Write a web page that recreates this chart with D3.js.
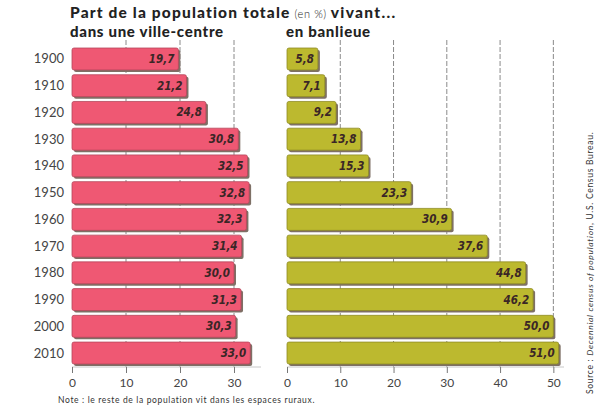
<!DOCTYPE html>
<html>
<head>
<meta charset="utf-8">
<script src="https://cdn.jsdelivr.net/npm/d3@7/dist/d3.min.js"></script>
<style>
  html, body { margin: 0; padding: 0; background: #fff; }
  svg { display: block; }
</style>
</head>
<body>
<svg id="chart" width="602" height="408"></svg>
<script>
// Share of the US population living in central cities and in suburbs (%)
const years = ["1900", "1910", "1920", "1930", "1940", "1950", "1960", "1970", "1980", "1990", "2000", "2010"];
const villeCentre = [19.7, 21.2, 24.8, 30.8, 32.5, 32.8, 32.3, 31.4, 30.0, 31.3, 30.3, 33.0];
const banlieue = [5.8, 7.1, 9.2, 13.8, 15.3, 23.3, 30.9, 37.6, 44.8, 46.2, 50.0, 51.0];
const ticksCentre = [0, 10, 20, 30];
const ticksBanlieue = [0, 10, 20, 30, 40, 50];

const fmt = v => v.toFixed(1).replace(".", ",");

const svg = d3.select("#chart");

const y = d3.scaleBand().domain(years).range([48, 364]).paddingInner(0.18).paddingOuter(0);

const xL = d3.scaleLinear().domain([0, 35]).range([72, 261]);
const xR = d3.scaleLinear().domain([0, 52]).range([287, 564]);

const gridTop = 40, axisY = 367;

function panel(x, values, ticks, fill, stroke) {
  const g = svg.append("g");
  // dashed vertical guides
  g.selectAll("line.grid").data(ticks.filter(t => t > 0)).join("line")
    .attr("class", "grid")
    .attr("x1", d => x(d)).attr("x2", d => x(d))
    .attr("y1", gridTop).attr("y2", axisY)
    .attr("stroke", "#8a8a8a").attr("stroke-width", 1)
    .attr("stroke-dasharray", "5,2");

  // bottom axis
  const ax = g.append("g").attr("transform", `translate(0,${axisY})`)
    .call(d3.axisBottom(x).tickValues(ticks).tickSize(6).tickPadding(5).tickFormat(d3.format("d")));
  ax.select(".domain").attr("stroke", "#c8c8c8").attr("d", `M${x.range()[0]},0H${x.range()[1]}`);
  ax.selectAll(".tick line").attr("stroke", "#777");
  ax.selectAll(".tick text")
    .attr("font-family", "Lato, 'Open Sans', sans-serif")
    .attr("font-size", 12).attr("fill", "#444");

  const rows = g.selectAll("g.bar").data(values.map((v, i) => ({ year: years[i], v }))).join("g")
    .attr("class", "bar");
  // drop shadow
  rows.append("rect")
    .attr("x", x(0) + 2).attr("y", d => y(d.year) + 2)
    .attr("width", d => x(d.v) - x(0)).attr("height", y.bandwidth())
    .attr("rx", 2).attr("fill", "#7e7066");
  rows.append("rect")
    .attr("x", x(0)).attr("y", d => y(d.year))
    .attr("width", d => x(d.v) - x(0)).attr("height", y.bandwidth())
    .attr("rx", 2).attr("fill", fill).attr("stroke", stroke).attr("stroke-width", 0.8);
  rows.append("text")
    .attr("x", d => x(d.v) - 4).attr("y", d => y(d.year) + y.bandwidth() / 2 + 4)
    .attr("text-anchor", "end")
    .attr("font-family", "'Liberation Sans Narrow', 'DejaVu Sans Condensed', sans-serif")
    .attr("font-stretch", "condensed")
    .attr("font-weight", "bold").attr("font-style", "italic")
    .attr("font-size", 11.5).attr("fill", "#3a2626")
    .text(d => fmt(d.v));
}

panel(xL, villeCentre, ticksCentre, "#ef5873", "#b5485c");
panel(xR, banlieue, ticksBanlieue, "#bcb92f", "#8f8c24");

// year labels
svg.append("g").selectAll("text").data(years).join("text")
  .attr("x", 64).attr("y", d => y(d) + y.bandwidth() / 2 + 4.5)
  .attr("text-anchor", "end")
  .attr("font-family", "Lato, 'Open Sans', sans-serif")
  .attr("font-size", 13).attr("fill", "#444")
  .text(d => d);

// titles
const title = svg.append("text").attr("x", 70).attr("y", 18)
  .attr("font-family", "Lato, sans-serif").attr("font-size", 15.5).attr("fill", "#222");
title.append("tspan").attr("font-weight", 900).attr("letter-spacing", 1.15).text("Part de la population totale");
title.append("tspan").attr("dx", 4).attr("font-weight", 300).attr("font-size", 11).attr("letter-spacing", 0.6).text("(en %)");
title.append("tspan").attr("dx", 4).attr("font-weight", 900).attr("letter-spacing", 1.3).text("vivant...");

svg.append("text").attr("x", 70).attr("y", 37)
  .attr("font-family", "Lato, sans-serif").attr("font-weight", 900).attr("font-size", 15)
  .attr("letter-spacing", 0.7).attr("fill", "#222")
  .text("dans une ville-centre");
svg.append("text").attr("x", 286).attr("y", 37)
  .attr("font-family", "Lato, sans-serif").attr("font-weight", 900).attr("font-size", 15)
  .attr("letter-spacing", 0.7).attr("fill", "#222")
  .text("en banlieue");

// note
svg.append("text").attr("x", 58).attr("y", 403)
  .attr("font-family", "Lato, sans-serif").attr("font-size", 8.5).attr("letter-spacing", 0.65).attr("fill", "#333")
  .text("Note : le reste de la population vit dans les espaces ruraux.");

// source, vertical
const src = svg.append("text")
  .attr("transform", "translate(593,394) rotate(-90)")
  .attr("font-family", "Lato, sans-serif").attr("font-size", 8.5).attr("letter-spacing", 0.7).attr("fill", "#333");
src.append("tspan").text("Source : ");
src.append("tspan").attr("font-style", "italic").text("Decennial census of population");
src.append("tspan").text(", U.S. Census Bureau.");
</script>
</body>
</html>
